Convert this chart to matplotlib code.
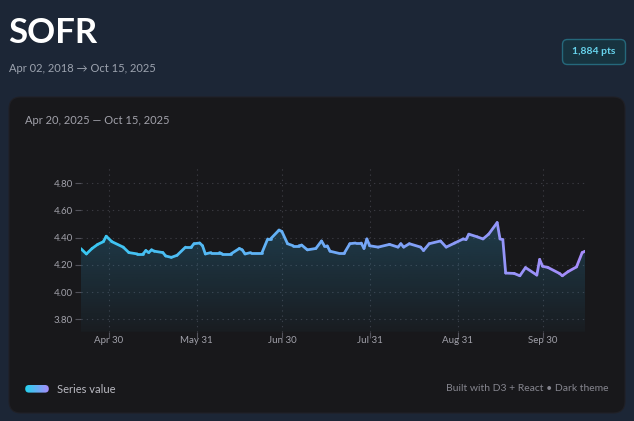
import matplotlib
matplotlib.use("Agg")
import matplotlib.dates as mdates
import matplotlib.pyplot as plt
import numpy as np
from matplotlib.collections import LineCollection
from matplotlib.colors import to_rgb
from matplotlib.patches import FancyBboxPatch

# SOFR readings, Apr 20 - Oct 15, 2025
dates = [
    "2025-04-20", "2025-04-22", "2025-04-24", "2025-04-26", "2025-04-28",
    "2025-04-29", "2025-05-01", "2025-05-05", "2025-05-07", "2025-05-10",
    "2025-05-12", "2025-05-13", "2025-05-14", "2025-05-15", "2025-05-16",
    "2025-05-19", "2025-05-20", "2025-05-22", "2025-05-24", "2025-05-27",
    "2025-05-29", "2025-05-30", "2025-06-01", "2025-06-02", "2025-06-03",
    "2025-06-05", "2025-06-08", "2025-06-09", "2025-06-12", "2025-06-15",
    "2025-06-16", "2025-06-17", "2025-06-19", "2025-06-23", "2025-06-25",
    "2025-06-26", "2025-06-29", "2025-06-30", "2025-07-02", "2025-07-04",
    "2025-07-06", "2025-07-07", "2025-07-09", "2025-07-12", "2025-07-14",
    "2025-07-15", "2025-07-16", "2025-07-17", "2025-07-20", "2025-07-22",
    "2025-07-24", "2025-07-26", "2025-07-28", "2025-07-29", "2025-07-30",
    "2025-07-31", "2025-08-03", "2025-08-07", "2025-08-10", "2025-08-11",
    "2025-08-12", "2025-08-14", "2025-08-18", "2025-08-19", "2025-08-21",
    "2025-08-25", "2025-08-27", "2025-08-30", "2025-09-02", "2025-09-03",
    "2025-09-04", "2025-09-07", "2025-09-09", "2025-09-11", "2025-09-14",
    "2025-09-15", "2025-09-16", "2025-09-17", "2025-09-20", "2025-09-22",
    "2025-09-24", "2025-09-28", "2025-09-29", "2025-09-30", "2025-10-02",
    "2025-10-06", "2025-10-07", "2025-10-09", "2025-10-12", "2025-10-14",
    "2025-10-15",
]
values = [
    4.32, 4.28, 4.32, 4.35, 4.37,
    4.41, 4.37, 4.33, 4.29, 4.28,
    4.28, 4.305, 4.29, 4.31, 4.30,
    4.29, 4.265, 4.255, 4.27, 4.33,
    4.33, 4.355, 4.36, 4.34, 4.28,
    4.29, 4.29, 4.28, 4.28, 4.32,
    4.31, 4.28, 4.29, 4.29, 4.39,
    4.39, 4.455, 4.445, 4.355, 4.34,
    4.34, 4.345, 4.31, 4.32, 4.375,
    4.34, 4.34, 4.30, 4.285, 4.285,
    4.355, 4.36, 4.36, 4.32, 4.39,
    4.34, 4.33, 4.35, 4.33, 4.355,
    4.33, 4.355, 4.33, 4.305, 4.355,
    4.375, 4.33, 4.36, 4.39, 4.385,
    4.425, 4.405, 4.39, 4.425, 4.51,
    4.39, 4.385, 4.14, 4.137, 4.12,
    4.18, 4.125, 4.24, 4.19, 4.18,
    4.137, 4.12, 4.15, 4.185, 4.29,
    4.30,
]

x_ticks = ["2025-04-30", "2025-05-31", "2025-06-30", "2025-07-31", "2025-08-31", "2025-09-30"]
x_tick_labels = ["Apr 30", "May 31", "Jun 30", "Jul 31", "Aug 31", "Sep 30"]
y_ticks = [3.80, 4.00, 4.20, 4.40, 4.60, 4.80]

W, H = 634, 421
BG = "#1c2636"
CARD = "#18181b"
MUTED = "#a1a1aa"
LINE_START = "#38c8f2"
LINE_END = "#a78bfa"
FONT = ["Lato", "DejaVu Sans"]

plt.rcParams["font.family"] = FONT

fig = plt.figure(figsize=(W / 100, H / 100), dpi=100)
fig.patch.set_facecolor(BG)

# pixel-space layer for the page furniture
bg = fig.add_axes([0, 0, 1, 1])
bg.set_xlim(0, W)
bg.set_ylim(H, 0)
bg.axis("off")

r = 12
bg.add_patch(FancyBboxPatch((9 + r, 97 + r), 616 - 2 * r, 316 - 2 * r,
                            boxstyle=f"round,pad={r}", fc=CARD, ec="#202026", lw=0.8))

bg.text(8, 33, "SOFR", color="white", fontsize=25, fontweight="bold", va="center")
bg.text(9, 68.5, "Apr 02, 2018 \u2192 Oct 15, 2025", color="#9ca3af", fontsize=8, va="center")

# point-count badge
bg.add_patch(FancyBboxPatch((567.5, 44.5), 53, 15, boxstyle="round,pad=5",
                            fc="#17333f", ec="#25687b", lw=1))
bg.text(594, 52, "1,884 pts", color="#67d3ec", fontsize=7.5,
        fontweight="bold", ha="center", va="center")

bg.text(25, 121, "Apr 20, 2025 \u2014 Oct 15, 2025", color=MUTED, fontsize=8, va="center")

# legend swatch (gradient pill)
sw = np.zeros((1, 64, 3))
c0, c1 = np.array(to_rgb("#22d3ee")), np.array(to_rgb(LINE_END))
for i, t in enumerate(np.linspace(0, 1, 64)):
    sw[0, i] = c0 + (c1 - c0) * t
pill = FancyBboxPatch((29, 388.8), 16, 0.01, boxstyle="round,pad=3.8", fc="none", ec="none")
bg.add_patch(pill)
im_sw = bg.imshow(sw, extent=[25, 49, 392.7, 385], aspect="auto", zorder=3)
im_sw.set_clip_path(pill)
bg.set_xlim(0, W)
bg.set_ylim(H, 0)
bg.text(57, 389.5, "Series value", color="#b8b8c0", fontsize=8, va="center")
bg.text(609, 388.5, "Built with D3 + React \u2022 Dark theme", color="#85858e",
        fontsize=7.5, ha="right", va="center")

# chart
ax = fig.add_axes([80.7 / W, (H - 331.7) / H, (585 - 80.7) / W, (331.7 - 168) / H])
ax.patch.set_alpha(0)

xs = mdates.date2num(np.array(dates, dtype="datetime64[D]"))
ys = np.array(values)
x0, x1 = xs[0], xs[-1]
y_lo, y_hi = 3.71, 4.91

poly = ax.fill_between(xs, ys, y_lo, color="none", lw=0)
grad = np.zeros((256, 1, 4))
grad[:, 0, :3] = to_rgb("#38bdf8")
grad[:, 0, 3] = np.linspace(0.22, 0.03, 256)
im = ax.imshow(grad, extent=[x0, x1, y_lo, ys.max()], aspect="auto", origin="upper", zorder=1)
im.set_clip_path(poly.get_paths()[0], transform=ax.transData)

pts = np.column_stack([xs, ys])
segs = np.stack([pts[:-1], pts[1:]], axis=1)
frac = ((xs[:-1] + xs[1:]) / 2 - x0) / (x1 - x0)
ca, cb = np.array(to_rgb(LINE_START)), np.array(to_rgb(LINE_END))
cols = [ca + (cb - ca) * f for f in frac]
lc = LineCollection(segs, colors=cols, linewidths=2.0, capstyle="round",
                    joinstyle="round", zorder=3)
ax.add_collection(lc)

ax.set_xlim(x0, x1)
ax.set_ylim(y_lo, y_hi)
ax.set_xticks(mdates.date2num(np.array(x_ticks, dtype="datetime64[D]")))
ax.set_xticklabels(x_tick_labels)
ax.set_yticks(y_ticks)
ax.set_yticklabels([f"{v:.2f}" for v in y_ticks])
ax.tick_params(colors="#52525b", labelcolor=MUTED, labelsize=7, length=4, width=0.8)
ax.tick_params(axis="x", pad=-1)
ax.tick_params(axis="y", pad=1.5)
for s in ax.spines.values():
    s.set_visible(False)
ax.grid(True, color="#3a3a41", linestyle=(0, (1.2, 3.5)), linewidth=0.8)
ax.set_axisbelow(True)

fig.savefig("out.png", dpi=100, facecolor=BG)
